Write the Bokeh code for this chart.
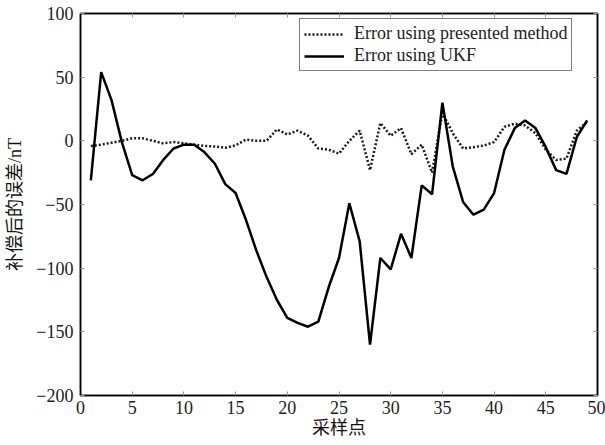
from bokeh.plotting import figure
from bokeh.models import (Legend, LegendItem, LinearAxis, FixedTicker, ColumnDataSource,
                          CustomLabelingPolicy)
from bokeh.embed import file_html
from bokeh.resources import INLINE

samples = list(range(1, 50))
err_presented = [-4, -3, -1.5, 0, 2, 2, 0, -2, -1, -2, -3, -4, -4.5, -5.5, -3.5, 1, 0, 0, 9, 5,
                 8, 4, -6, -7, -10, 0, 8, -23, 14, 4, 10, -10.5, -3, -25, 22, 6, -6, -5, -3.7, -1,
                 11, 13.5, 12, 6, -7, -15, -14, 8, 15]
err_ukf = [-31, 54, 32, -1, -27, -31, -26, -15, -6, -3, -3, -9, -18, -34, -41, -62, -86, -107, -125, -139,
           -143, -146, -142, -115, -92, -49, -79, -160, -92, -101, -73, -92, -35, -42, 30, -20, -48, -58, -54, -41,
           -7, 10, 16, 10, -5, -23, -26, 3, 16]

x_ticks = [0, 5, 10, 15, 20, 25, 30, 35, 40, 45, 50]
y_ticks = [-200, -150, -100, -50, 0, 50, 100]
x_title = "采样点"
y_title = "补偿后的误差/nT"
labels = ["Error using presented method", "Error using UKF"]

FONT = "'Liberation Serif', 'Noto Sans CJK SC', serif"

src = ColumnDataSource(dict(x=samples, a=err_presented, b=err_ukf))

p = figure(width=605, height=445, output_backend="svg", toolbar_location=None,
           x_range=(0, 50), y_range=(-200, 100),
           min_border_left=80, min_border_right=8, min_border_top=13, min_border_bottom=50)
p.grid.visible = False
p.outline_line_color = "black"
p.outline_line_width = 1.5
p.background_fill_color = "white"
p.border_fill_color = "white"

r1 = p.line("x", "a", source=src, line_color="#1a1a1a", line_width=2.5, line_dash="2 2")
r2 = p.line("x", "b", source=src, line_color="black", line_width=2.5)

for ax in (p.xaxis[0], p.yaxis[0]):
    ax.major_tick_in = 4
    ax.major_tick_out = 0
    ax.major_tick_line_color = "#999999"
    ax.minor_tick_line_color = None
    ax.axis_line_color = "black"
    ax.axis_line_width = 1.5
    ax.major_label_text_font = FONT
    ax.major_label_text_font_size = "18px"
    ax.major_label_text_color = "#222222"
    ax.axis_label_text_font = FONT
    ax.axis_label_text_font_size = "18px"
    ax.axis_label_text_font_style = "normal"
    ax.axis_label_text_color = "#111111"

p.xaxis[0].ticker = FixedTicker(ticks=x_ticks)
p.yaxis[0].ticker = FixedTicker(ticks=y_ticks)
p.xaxis[0].axis_label = x_title
p.yaxis[0].axis_label = y_title
p.xaxis[0].major_label_standoff = 5
p.xaxis[0].axis_label_standoff = 1
p.yaxis[0].major_label_standoff = 7
p.yaxis[0].axis_label_standoff = 8

hide_all = "for (const i of Array.from(indices.ones())) { indices.unset(i) } return indices"
for loc, ticks in (("above", x_ticks), ("right", y_ticks)):
    ax = LinearAxis(ticker=FixedTicker(ticks=ticks), major_label_text_font_size="0px",
                    major_label_standoff=0, major_label_policy=CustomLabelingPolicy(code=hide_all),
                    major_tick_in=4, major_tick_out=0, minor_tick_line_color=None,
                    axis_line_color="black", axis_line_width=1.5, major_tick_line_color="#999999")
    p.add_layout(ax, loc)

legend = Legend(items=[LegendItem(label=labels[0], renderers=[r1]),
                       LegendItem(label=labels[1], renderers=[r2])],
                location=(219, 324))
legend.label_text_font = FONT
legend.label_text_font_size = "18px"
legend.label_text_color = "#222222"
legend.border_line_color = "black"
legend.border_line_width = 1.2
legend.glyph_width = 40
legend.glyph_height = 20
legend.label_standoff = 10
legend.padding = 4
legend.spacing = 1
legend.margin = 0
legend.background_fill_alpha = 1
p.add_layout(legend, "center")

open("out.html", "w").write(file_html(p, INLINE))
